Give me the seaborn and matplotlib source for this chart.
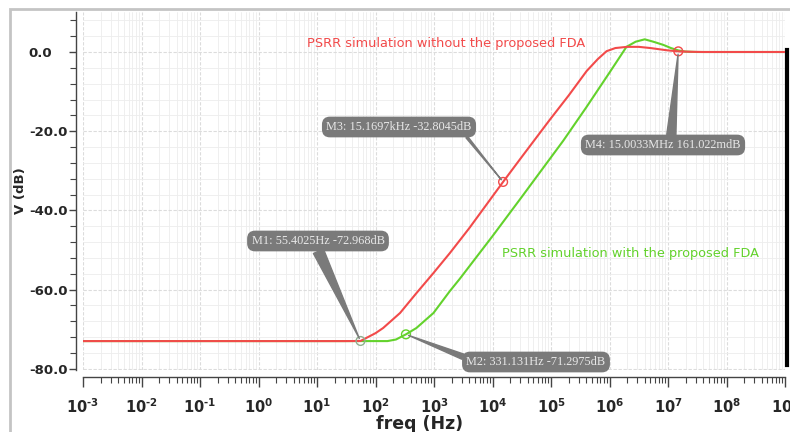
import matplotlib
matplotlib.use("Agg")
import matplotlib.pyplot as plt
import matplotlib.ticker as mticker
from matplotlib.patches import Rectangle
import seaborn as sns
import pandas as pd

# ---------------- data ----------------
freq_without = [1e-3, 30, 55.4, 100, 135, 263, 500, 980, 1860, 4000, 15170,
                31600, 95500, 2.0e5, 4.07e5, 6.3e5, 8.9e5, 1.26e6, 2.0e6,
                3.16e6, 5.0e6, 7.9e6, 1.0e7, 1.5e7, 2.5e7, 4.0e7, 1e9]
psrr_without = [-73.0, -73.0, -72.97, -71.0, -69.7, -65.9, -60.9, -55.8, -50.8,
                -44.5, -32.8, -26.5, -17.1, -11.0, -4.8, -1.8, 0.2, 1.0, 1.3,
                1.3, 1.0, 0.6, 0.4, 0.16, 0.05, 0.0, 0.0]

freq_with = [1e-3, 160, 224, 331, 500, 980, 1860, 2750, 1e4, 31600, 1.62e5,
             4.0e5, 1.0e6, 1.95e6, 2.8e6, 4.0e6, 5.6e6, 8.3e6, 1.12e7, 1.5e7,
             2.0e7, 3.16e7, 1e9]
psrr_with = [-73.0, -73.0, -72.6, -71.3, -69.7, -65.9, -60.4, -57.3, -46.5,
             -36.6, -22.4, -14.0, -5.2, 1.3, 2.6, 3.2, 2.6, 1.8, 1.0, 0.4,
             0.1, 0.0, 0.0]

marker_names = ["M1", "M2", "M3", "M4"]
marker_freq = [55.4025, 331.131, 15169.7, 15.0033e6]
marker_db = [-72.968, -71.2975, -32.8045, 0.161022]
marker_text = ["M1: 55.4025Hz -72.968dB", "M2: 331.131Hz -71.2975dB",
               "M3: 15.1697kHz -32.8045dB", "M4: 15.0033MHz 161.022mdB"]
marker_series = ["without", "with", "without", "without"]

label_without = "PSRR simulation without the proposed FDA"
label_with = "PSRR simulation with the proposed FDA"

y_major = [-80, -60, -40, -20, 0]
x_decades = list(range(-3, 10))
x_labels = [r"$\mathbf{10^{%s}}$" % (str(d).replace("-", "\u2010")) for d in x_decades]

# ---------------- styling ----------------
sns.set_style("white")
plt.rcParams["font.family"] = ["DejaVu Sans"]

RED = "#f24a4a"
GREEN = "#63d22c"

W, H = 790, 432
fig = plt.figure(figsize=(W / 100, H / 100), dpi=100)
ax_l, ax_r, ax_t, ax_b = 83, 785, 12, 370
ax = fig.add_axes([ax_l / W, 1 - ax_b / H, (ax_r - ax_l) / W, (ax_b - ax_t) / H])

# outer light frame of the screenshot
fig.patches.append(Rectangle((10 / W, -0.2), 1.2, 1.2 - 9 / H,
                             transform=fig.transFigure, fill=False,
                             edgecolor="#c4c4c4", lw=2.0, zorder=-5))

df_without = pd.DataFrame({"freq": freq_without, "psrr": psrr_without})
df_with = pd.DataFrame({"freq": freq_with, "psrr": psrr_with})

sns.lineplot(data=df_without, x="freq", y="psrr", ax=ax, color=RED, lw=1.5,
             sort=False, zorder=4)
sns.lineplot(data=df_with, x="freq", y="psrr", ax=ax, color=GREEN, lw=1.5,
             sort=False, zorder=3)

mcol = [RED if s == "without" else GREEN for s in marker_series]
mcol[0] = "#8fb08f"
sns.scatterplot(x=marker_freq, y=marker_db, ax=ax, s=40, facecolor="none",
                edgecolor=mcol, linewidth=1.0, zorder=6, legend=False)

ax.set_xscale("log")
ax.set_xlim(1e-3, 1e9)
ax.set_ylim(-80.3, 10.1)

# spines (set before tick label styling: repositioning resets ticks)
ax.spines["top"].set_visible(False)
ax.spines["left"].set_position(("outward", 5))
ax.spines["bottom"].set_position(("outward", 5))
for side in ["left", "bottom"]:
    ax.spines[side].set_color("#444444")
    ax.spines[side].set_linewidth(1.0)
ax.spines["right"].set_visible(True)
ax.spines["right"].set_color("black")
ax.spines["right"].set_linewidth(3.0)
ax.spines["right"].set_position(("outward", 1.5))
ax.spines["right"].set_bounds(-79, 0.5)

# ticks
ax.xaxis.set_major_locator(mticker.FixedLocator([10.0 ** d for d in x_decades]))
ax.xaxis.set_major_formatter(mticker.FixedFormatter(x_labels))
ax.xaxis.set_minor_locator(mticker.LogLocator(base=10, subs=range(2, 10), numticks=200))
ax.xaxis.set_minor_formatter(mticker.NullFormatter())

ax.yaxis.set_major_locator(mticker.FixedLocator(y_major))
ax.yaxis.set_major_formatter(mticker.FixedFormatter([f"{v:.1f}" for v in y_major]))
ax.yaxis.set_minor_locator(mticker.MultipleLocator(4))

ax.tick_params(axis="x", which="major", direction="out", length=7, width=1.0,
               color="#444444", labelsize=10.5, pad=8, bottom=True)
ax.tick_params(axis="x", which="minor", direction="out", length=4, width=0.8,
               color="#444444", bottom=True)
ax.tick_params(axis="y", which="major", direction="out", length=5, width=1.0,
               color="#444444", labelsize=9.5, pad=29, left=True)
ax.tick_params(axis="y", which="minor", direction="out", length=4, width=0.8,
               color="#444444", left=True)
for lab in ax.get_yticklabels():
    lab.set_horizontalalignment("left")
    lab.set_fontweight("bold")

# grid
ax.grid(which="major", color="#dcdcdc", lw=0.8, ls=(0, (3, 1.5)))
ax.grid(which="minor", color="#ededed", lw=0.6)
ax.set_axisbelow(True)

ax.set_xlabel("freq (Hz)", fontsize=12.5, fontweight="bold")
ax.set_ylabel("V (dB)", fontsize=9.5, fontweight="bold")
ax.xaxis.set_label_coords(0.48, -0.125)
ax.yaxis.set_label_coords(-0.08, 0.5)


def fx(px):
    return (px - ax_l) / (ax_r - ax_l)


def fy(py):
    return (ax_b - py) / (ax_b - ax_t)


# curve captions
ax.text(fx(446), fy(44), label_without, color=RED, fontsize=9.3,
        ha="center", va="center", transform=ax.transAxes)
ax.text(fx(630), fy(254), label_with, color=GREEN, fontsize=9.3,
        ha="center", va="center", transform=ax.transAxes)

# marker annotations
box_pos = [(318, 241), (536, 362), (399, 127), (663, 145)]
relpos = [(0.48, 0.2), (0.05, 0.6), (0.93, 0.2), (0.55, 0.8)]
tails = [0.9, 0.45, 0.18, 0.75]
for i in range(len(marker_names)):
    bx, by = box_pos[i]
    ax.annotate(marker_text[i], xy=(marker_freq[i], marker_db[i]), xycoords="data",
                xytext=(fx(bx), fy(by)), textcoords="axes fraction",
                ha="center", va="center", fontsize=8.8, color="#e8e8e8",
                family=["Liberation Serif", "DejaVu Serif"],
                bbox=dict(boxstyle="round,pad=0.3,rounding_size=0.6",
                          fc="#7a7a7a", ec="#7a7a7a"),
                arrowprops=dict(arrowstyle=f"wedge,tail_width={tails[i]},shrink_factor=0.5",
                                fc="#7a7a7a", ec="#7a7a7a", relpos=relpos[i],
                                shrinkA=0, shrinkB=2),
                zorder=7)

fig.savefig("out.png", dpi=100)
